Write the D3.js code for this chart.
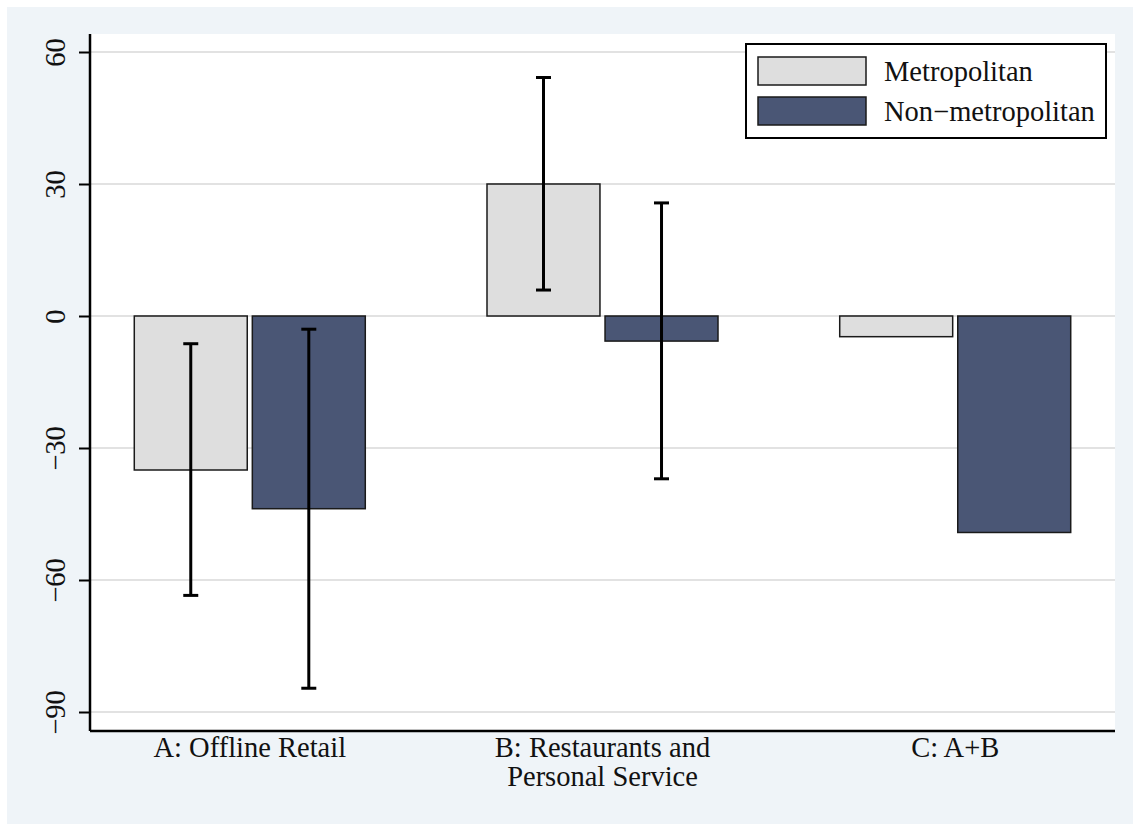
<!DOCTYPE html>
<html>
<head>
<meta charset="utf-8">
<script src="https://cdn.jsdelivr.net/npm/d3@7"></script>
<style>
  html, body { margin: 0; padding: 0; background: #ffffff; }
  svg { display: block; }
  text { font-family: "Liberation Serif", "DejaVu Serif", serif; fill: #111; }
</style>
</head>
<body>
<svg id="chart" width="1133" height="824"></svg>
<script>
// Sector categories (x-axis) and their label lines
const categories = ["A", "B", "C"];
const categoryLabels = [["A: Offline Retail"], ["B: Restaurants and", "Personal Service"], ["C: A+B"]];

// Series
const seriesNames = ["Metropolitan", "Non\u2212metropolitan"];
const metroValues = [-35, 30, -4.7];
const nonMetroValues = [-43.8, -5.7, -49.2];

// Confidence intervals (null = no interval drawn)
const metroLow = [-63.5, 5.9, null];
const metroHigh = [-6.3, 54.2, null];
const nonMetroLow = [-84.6, -37, null];
const nonMetroHigh = [-3, 25.7, null];

// Y-axis ticks
const yTicks = [-90, -60, -30, 0, 30, 60];

const colors = ["#dedede", "#4a5675"];
const FONT = 28.5;

const svg = d3.select("#chart");
const W = 1133, H = 824;

// Outer background
svg.append("rect").attr("x", 7).attr("y", 7).attr("width", W - 7).attr("height", H - 7)
  .attr("fill", "#eff4f8");

const plot = { left: 90, right: 1115, top: 34, bottom: 731 };
svg.append("rect")
  .attr("x", plot.left).attr("y", plot.top)
  .attr("width", plot.right - plot.left).attr("height", plot.bottom - plot.top)
  .attr("fill", "#ffffff");

const y = d3.scaleLinear().domain([-90, 60]).range([712, 52]);

const x0 = d3.scalePoint().domain(categories).range([plot.left, plot.right]).padding(0.453);
const x1 = d3.scaleBand().domain([0, 1]).range([-115.5, 115.5]).paddingInner(0.043);

// Gridlines
svg.append("g").selectAll("line").data(yTicks).join("line")
  .attr("x1", plot.left).attr("x2", plot.right)
  .attr("y1", d => y(d)).attr("y2", d => y(d))
  .attr("stroke", "#d8d8d8").attr("stroke-width", 1.5);

// Bars
const rows = categories.map((c, i) => ({
  cat: c,
  vals: [
    { s: 0, v: metroValues[i], lo: metroLow[i], hi: metroHigh[i] },
    { s: 1, v: nonMetroValues[i], lo: nonMetroLow[i], hi: nonMetroHigh[i] }
  ]
}));

const groups = svg.append("g").selectAll("g").data(rows).join("g")
  .attr("transform", d => `translate(${x0(d.cat)},0)`);

groups.selectAll("rect").data(d => d.vals).join("rect")
  .attr("x", d => x1(d.s))
  .attr("width", x1.bandwidth())
  .attr("y", d => Math.min(y(d.v), y(0)))
  .attr("height", d => Math.abs(y(d.v) - y(0)))
  .attr("fill", d => colors[d.s])
  .attr("stroke", "#1a1a1a").attr("stroke-width", 1.5);

// Error bars
const cap = 7.5;
const eb = groups.selectAll("g.err").data(d => d.vals.filter(v => v.lo !== null)).join("g")
  .attr("class", "err")
  .attr("stroke", "#000").attr("stroke-width", 3);
eb.append("line")
  .attr("x1", d => x1(d.s) + x1.bandwidth() / 2).attr("x2", d => x1(d.s) + x1.bandwidth() / 2)
  .attr("y1", d => y(d.hi)).attr("y2", d => y(d.lo));
eb.append("line")
  .attr("x1", d => x1(d.s) + x1.bandwidth() / 2 - cap).attr("x2", d => x1(d.s) + x1.bandwidth() / 2 + cap)
  .attr("y1", d => y(d.hi)).attr("y2", d => y(d.hi));
eb.append("line")
  .attr("x1", d => x1(d.s) + x1.bandwidth() / 2 - cap).attr("x2", d => x1(d.s) + x1.bandwidth() / 2 + cap)
  .attr("y1", d => y(d.lo)).attr("y2", d => y(d.lo));

// Y axis
const yAxis = svg.append("g").attr("transform", `translate(${plot.left},0)`)
  .call(d3.axisLeft(y).tickValues(yTicks).tickSize(11).tickPadding(0).tickFormat(d => d < 0 ? "\u2212" + Math.abs(d) : d));
yAxis.select(".domain").attr("d", `M0,${plot.top}V${plot.bottom}`).attr("stroke", "#000").attr("stroke-width", 2.5);
yAxis.selectAll(".tick line").attr("stroke", "#000").attr("stroke-width", 2);
yAxis.selectAll(".tick text")
  .attr("font-size", FONT)
  .attr("font-family", "Liberation Serif, serif")
  .attr("fill", "#111")
  .attr("text-anchor", "middle")
  .attr("dy", null)
  .attr("x", null)
  .attr("y", 0)
  .attr("transform", "translate(-25,0) rotate(-90)");

// X axis line
svg.append("line")
  .attr("x1", plot.left).attr("x2", plot.right)
  .attr("y1", plot.bottom).attr("y2", plot.bottom)
  .attr("stroke", "#000").attr("stroke-width", 2.5);

// X category labels
const xl = svg.append("g").selectAll("text").data(categories).join("text")
  .attr("x", d => x0(d))
  .attr("y", 757)
  .attr("text-anchor", "middle")
  .attr("font-size", FONT);
xl.selectAll("tspan").data((d, i) => categoryLabels[i]).join("tspan")
  .attr("x", function() { return d3.select(this.parentNode).attr("x"); })
  .attr("dy", (d, i) => i === 0 ? 0 : 29)
  .text(d => d);

// Legend
const lg = svg.append("g");
lg.append("rect").attr("x", 746).attr("y", 44).attr("width", 360).attr("height", 94)
  .attr("fill", "#fff").attr("stroke", "#000").attr("stroke-width", 2);
seriesNames.forEach((name, i) => {
  lg.append("rect").attr("x", 758).attr("y", 57 + i * 40).attr("width", 108).attr("height", 28)
    .attr("fill", colors[i]).attr("stroke", "#1a1a1a").attr("stroke-width", 1.5);
  lg.append("text").attr("x", 884).attr("y", 81 + i * 40).attr("font-size", FONT).text(name);
});
</script>
</body>
</html>
